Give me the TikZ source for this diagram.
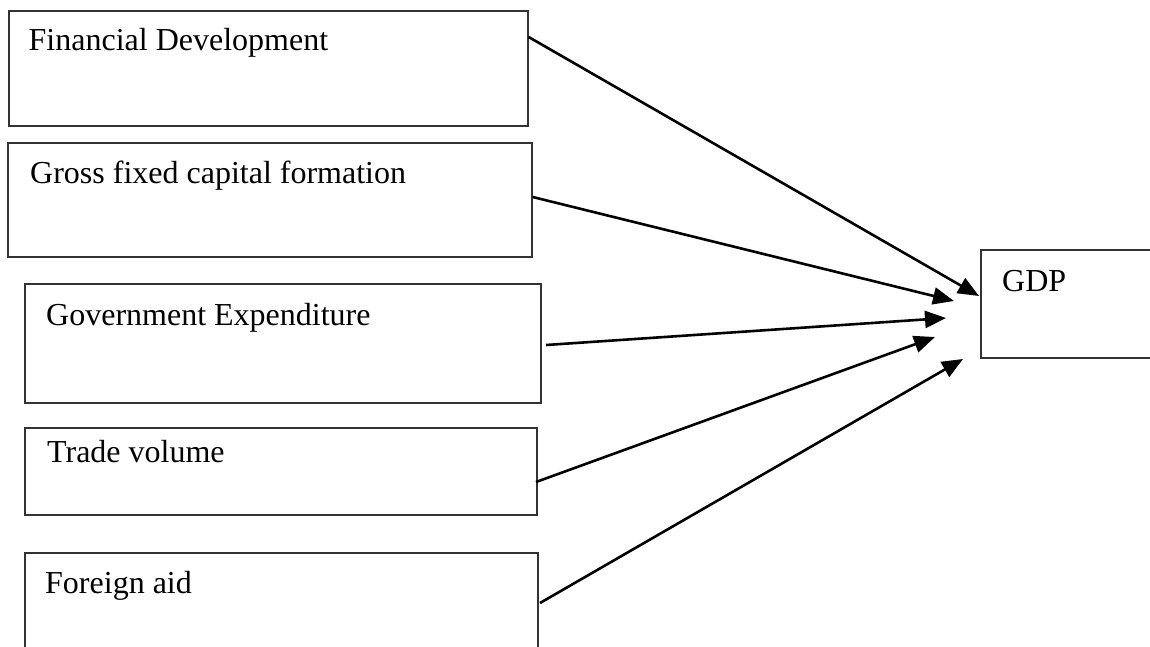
\documentclass[tikz,border=0pt]{standalone}
\usepackage{fontspec}
\setmainfont{Liberation Serif}
\usetikzlibrary{arrows.meta}
\begin{document}
\begin{tikzpicture}[x=1pt,y=-1pt,
  box/.style={draw=black!80, line width=1.3pt},
  lbl/.style={anchor=base west, inner sep=0pt, font=\fontsize{32}{38}\selectfont},
  conn/.style={line width=2.6pt, -{Triangle[length=21pt,width=17pt]}}]
\clip (0,0) rectangle (1150,646);
% boxes
\node[box, inner sep=0pt, minimum width=519pt, minimum height=115pt] (fd) at (268.5,68.5) {};
\node[box, inner sep=0pt, minimum width=524pt, minimum height=114pt] (gf) at (270,200) {};
\node[box, inner sep=0pt, minimum width=516pt, minimum height=119pt] (ge) at (283,343.5) {};
\node[box, inner sep=0pt, minimum width=512pt, minimum height=87pt] (tv) at (281,471.5) {};
\node[box, inner sep=0pt, minimum width=513pt, minimum height=120pt] (fa) at (281.5,613) {};
\node[box, inner sep=0pt, minimum width=200pt, minimum height=108pt] (gdp) at (1081,304) {};
% labels
\node[lbl] (fdt) at (28.5,50) {Financial Development};
\node[lbl] (gft) at (30,183) {Gross fixed capital formation};
\node[lbl] (get) at (46,325) {Government Expenditure};
\node[lbl] (tvt) at (47,462) {Trade volume};
\node[lbl] (fat) at (45,593) {Foreign aid};
\node[lbl] (gdpt) at (1002,291) {GDP};
% arrow end points
\coordinate (s1) at (fd.east |- 0,37);
\coordinate (s2) at (gf.east |- 0,197);
\coordinate (s3) at (546,345);
\coordinate (s4) at (536,482);
\coordinate (s5) at (540,603);
\coordinate (e1) at (979,296);
\coordinate (e2) at (954,301);
\coordinate (e3) at (946,318);
\coordinate (e4) at (935,337);
\coordinate (e5) at (963,359);
\draw[conn] (s1) -- (e1);
\draw[conn] (s2) -- (e2);
\draw[conn] (s3) -- (e3);
\draw[conn] (s4) -- (e4);
\draw[conn] (s5) -- (e5);
\end{tikzpicture}
\end{document}
